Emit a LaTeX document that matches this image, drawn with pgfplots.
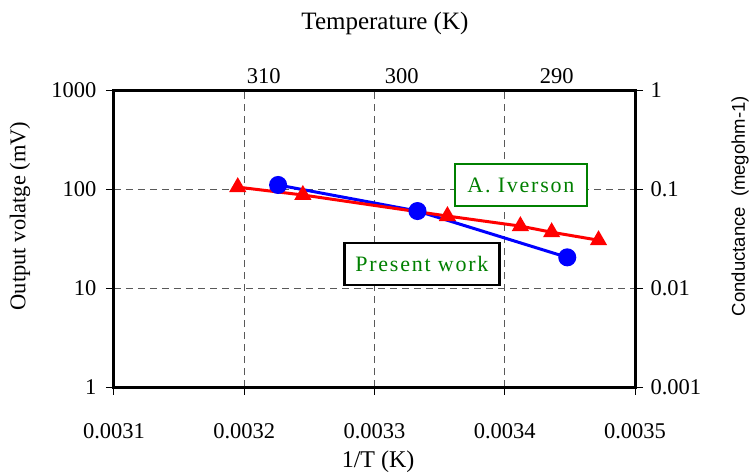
\documentclass[border=0pt]{standalone}
\usepackage{pgfplots}
\pgfplotsset{compat=1.18}
\usepackage{fontspec}
\setmainfont{Liberation Serif}
\newfontfamily\sansf{Liberation Sans}
\newfontfamily\spaced[LetterSpace=8]{Liberation Serif}
\definecolor{dgreen}{RGB}{0,128,0}
\begin{document}
\begin{tikzpicture}
\pgfplotsset{
  base/.style={
    at={(0,0)}, anchor=south west, scale only axis,
    width=521pt, height=297pt,
    xmin=31, xmax=35,
    ticklabel style={font=\fontsize{22.5}{26}\selectfont},
    label style={font=\fontsize{22.5}{26}\selectfont},
    axis line style={line width=3pt},
    tick style={black, line width=1pt},
    major tick length=8pt, tick align=outside,
    yminorticks=false, xminorticks=false,
  }
}
% main axis
\begin{axis}[base,
  ymode=log, ymin=1, ymax=1000,
  xtick={31,32,33,34,35},
  xticklabels={0.0031,0.0032,0.0033,0.0034,0.0035},
  ytick={1,10,100,1000},
  yticklabels={1,10,100,1000},
  xtick pos=bottom, ytick pos=left,
  xticklabel style={yshift=-25pt},
  yticklabel style={xshift=-6pt},
  grid=major,
  major grid style={dash pattern=on 7pt off 5pt, color=black!65, line width=1pt},
  xlabel={1/T (K)},
  xlabel style={at={(axis description cs:0.507,-0.2525)}, anchor=center, font=\fontsize{24}{28}\selectfont},
  ylabel={Output volatge (mV)},
  ylabel style={at={(axis description cs:-0.1804,0.5758)}, anchor=center, rotate=0},
]
\addplot[blue, line width=3pt, mark=*, mark size=7.5pt, mark options={solid}] coordinates {
  (32.26,109.8) (33.33,59.9) (34.48,20.4)
};
\addplot[red, line width=3pt, mark=triangle*, mark size=7pt, mark options={solid}] coordinates {
  (31.95,104.5) (32.45,87) (33.56,53.3) (34.12,42.2) (34.36,36.6) (34.72,30.4)
};
\node[draw=dgreen, line width=2.5pt, minimum width=132pt, minimum height=42pt, inner sep=0pt,
  text=dgreen, font=\spaced\fontsize{22}{26}\selectfont, fill=white]
  at (axis description cs:0.781,0.68) {A. Iverson};
\node[draw=black, line width=2.5pt, minimum width=155pt, minimum height=42pt, inner sep=0pt,
  text=dgreen, font=\spaced\fontsize{22}{26}\selectfont, fill=white]
  at (axis description cs:0.591,0.414) {Present work};
\end{axis}
% right axis
\begin{axis}[base,
  hide x axis,
  axis y line*=right,
  ymode=log, ymin=0.001, ymax=1,
  ytick={0.001,0.01,0.1,1},
  yticklabels={0.001,0.01,0.1,1},
  yticklabel style={xshift=4pt},
  ylabel={\sansf Conductance\ \ (megohm-1)},
  ylabel style={at={(axis description cs:1.2015,0.609)}, anchor=center, rotate=0, font=\fontsize{18.5}{22}\selectfont},
]
\end{axis}
% top axis
\begin{axis}[base,
  hide y axis,
  axis x line*=top,
  ymin=1, ymax=10,
  xtick={32.15,33.21,34.40},
  xticklabels={310,300,290},
  major tick length=0pt,
  xticklabel style={anchor=south, yshift=3pt},
  xlabel={Temperature (K)},
  xlabel style={at={(axis description cs:0.520,1.2256)}, anchor=center, font=\fontsize{25}{29}\selectfont},
]
\end{axis}
\pgfresetboundingbox
\path[use as bounding box] (-114pt,-88pt) rectangle (638pt,387pt);
\end{tikzpicture}
\end{document}
